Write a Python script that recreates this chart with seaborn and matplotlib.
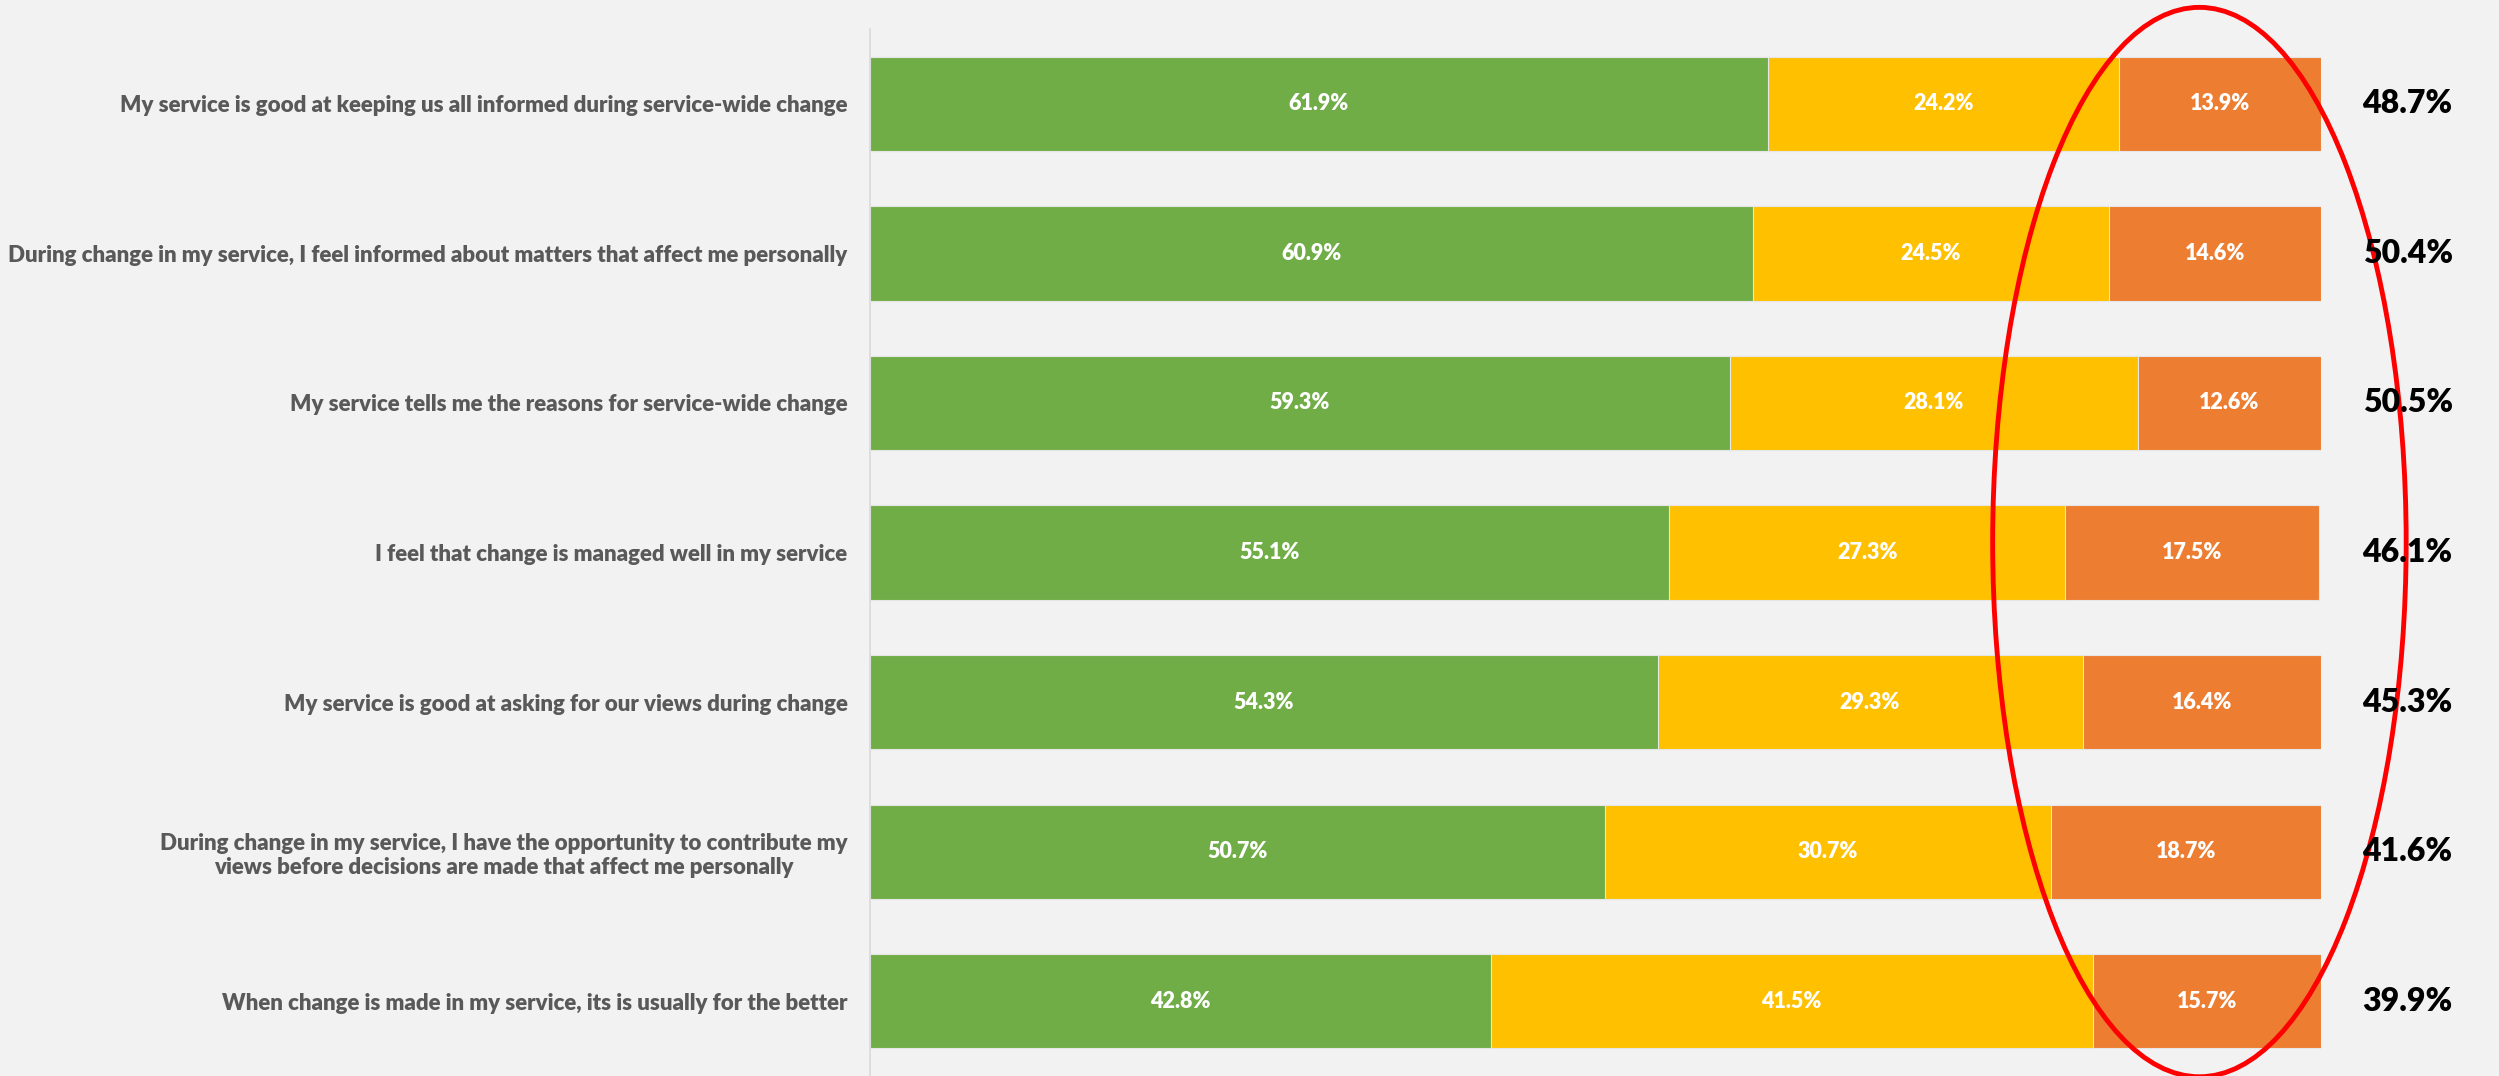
import numpy as np
import pandas as pd
import matplotlib
matplotlib.use("Agg")
import matplotlib.pyplot as plt
from matplotlib.patches import Ellipse
import seaborn as sns


QUESTIONS = [
	"My service is good at keeping us all informed during service-wide change",
	"During change in my service, I feel informed about matters that affect me personally",
	"My service tells me the reasons for service-wide change",
	"I feel that change is managed well in my service",
	"My service is good at asking for our views during change",
	"During change in my service, I have the opportunity to contribute my\nviews before decisions are made that affect me personally",
	"When change is made in my service, its is usually for the better",
]
POSITIVE = [61.9, 60.9, 59.3, 55.1, 54.3, 50.7, 42.8]
NEUTRAL = [24.2, 24.5, 28.1, 27.3, 29.3, 30.7, 41.5]
NEGATIVE = [13.9, 14.6, 12.6, 17.5, 16.4, 18.7, 15.7]
RIGHT_VALUES = [48.7, 50.4, 50.5, 46.1, 45.3, 41.6, 39.9]

GREEN = "#70AD47"
YELLOW = "#FFC000"
ORANGE = "#ED7D31"
BG = "#F2F2F2"
FONT = ["Lato", "DejaVu Sans"]


def plot_stacked(df) -> None:
	fig = plt.figure(figsize=(24.99, 10.76), dpi=100, facecolor=BG)
	ax = fig.add_axes([0.348, 0.0, 0.5806, 0.973])
	ax.set_facecolor(BG)

	df["pos_neu"] = df["positive"] + df["neutral"]
	df["total"] = df["pos_neu"] + df["negative"]
	# layered bars: full stack first, then covered from the left
	for col, color in [("total", ORANGE), ("pos_neu", YELLOW), ("positive", GREEN)]:
		sns.barplot(data=df, x=col, y="question", orient="h", color=color,
			width=0.63, ax=ax, edgecolor="#E6E6E6", linewidth=0.8, saturation=1)

	for i, row in df.iterrows():
		lefts = [0, row["positive"], row["pos_neu"]]
		for left, val in zip(lefts, [row["positive"], row["neutral"], row["negative"]]):
			ax.text(left + val / 2, i, f"{val:.1f}%", ha="center", va="center",
				color="white", fontsize=15.5, fontweight="heavy", family=FONT)
		ax.text(106, i, f"{row['right']:.1f}%", ha="center", va="center",
			color="black", fontsize=23, fontweight="heavy", family=FONT, clip_on=False)

	ell = Ellipse((91.65, 2.93), 28.5, 7.15, fill=False, edgecolor="#FF0000",
		linewidth=3.5, clip_on=False)
	ax.add_patch(ell)

	ax.set_xlim(0, 100)
	ax.set_ylim(6.5, -0.5)
	ax.set_xlabel("")
	ax.set_ylabel("")
	ax.set_xticks([])
	ax.tick_params(axis="y", length=0, pad=16)
	for lbl in ax.get_yticklabels():
		lbl.set_family(FONT)
		lbl.set_fontsize(16)
		lbl.set_fontweight("heavy")
		lbl.set_color("#595959")
		lbl.set_multialignment("center")
	for side in ["top", "right", "bottom"]:
		ax.spines[side].set_visible(False)
	ax.spines["left"].set_color("#D9D9D9")
	ax.spines["left"].set_linewidth(1.2)
	fig.savefig("out.png", dpi=100, facecolor=BG)


def main():
	sns.set_theme(style="white")
	df = pd.DataFrame({
		"question": QUESTIONS,
		"positive": POSITIVE,
		"neutral": NEUTRAL,
		"negative": NEGATIVE,
		"right": RIGHT_VALUES,
	})
	plot_stacked(df)


if __name__ == "__main__":
	main()
